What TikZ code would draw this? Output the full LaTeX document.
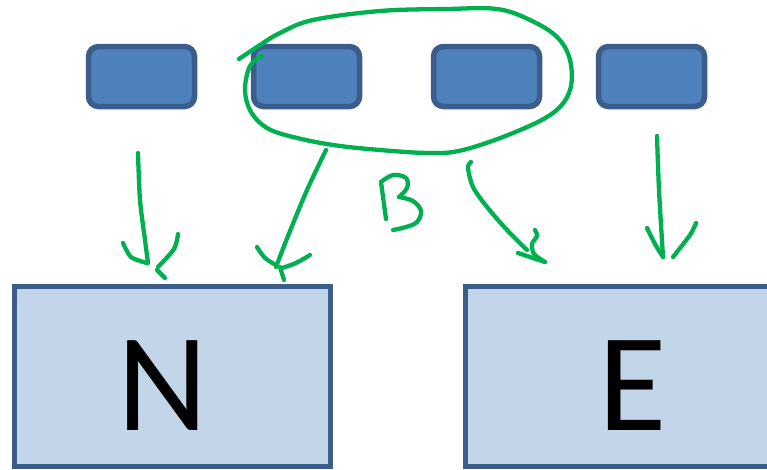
\documentclass[tikz,border=0pt]{standalone}
\usepackage{fontspec}
\setmainfont{Carlito}
\definecolor{tileFill}{HTML}{4F81BD}
\definecolor{tileEdge}{HTML}{3A5D8B}
\definecolor{panelFill}{HTML}{C3D5E9}
\definecolor{ink}{HTML}{00B050}
\tikzset{
  tile/.style={draw=tileEdge, fill=tileFill, line width=5.5pt, rounded corners=10pt},
  panel/.style={draw=tileEdge, fill=panelFill, line width=5pt},
  pen/.style={draw=ink, line width=4.3pt, line cap=round, line join=round},
}
\begin{document}
\begin{tikzpicture}[x=1pt,y=-1pt]
\useasboundingbox (0,0) rectangle (767,469);
\clip (0,0) rectangle (767,469);

% row of small tiles
\draw[tile] (88.5,46.5) rectangle (194.5,106.5);
\draw[tile] (253.5,46.5) rectangle (359.5,106.5);
\draw[tile] (433.5,46.5) rectangle (539.5,106.5);
\draw[tile] (598.5,46.5) rectangle (704.5,106.5);
\coordinate (t1) at (141,76);
\coordinate (t2) at (306,76);
\coordinate (t3) at (486,76);
\coordinate (t4) at (651,76);

% large panels
\draw[panel] (14.5,286.5) rectangle (330,466);
\draw[panel] (465.5,286.5) rectangle (800,466);
\node[font=\fontsize{140}{140}\selectfont, inner sep=0pt] (n) at (163,386) {N};
\node[font=\fontsize{140}{140}\selectfont, inner sep=0pt] (e) at (633,386) {E};

% loop around the middle tiles
\draw[pen] plot[smooth, tension=0.6] coordinates {
  (262,56) (250,66) (245,90) (251,112) (267,128) (293,137) (333,145)
  (380,150) (430,153) (463,150) (513,133) (553,113) (570,90) (570,60)
  (557,37) (530,20) (497,9) (447,9) (380,11) (313,20) (280,33) (260,45) (239,59)};

% label B
\draw[pen] (381,182) -- (386,219);
\draw[pen] plot[smooth, tension=0.6] coordinates {
  (381,182) (393,175) (406,178) (407,188) (399,197)};
\draw[pen] plot[smooth, tension=0.6] coordinates {
  (399,197) (413,201) (421,211) (417,222) (406,227) (393,230)};

% arrow 1
\draw[pen] plot[smooth] coordinates {(138,153) (140,200) (145,240) (148,263)};
\draw[pen] plot[smooth] coordinates {(123,243) (131,257) (147,263)};
\draw[pen] plot[smooth] coordinates {(178,234) (174,249) (158,267)};
\draw[pen] (157,270) -- (165,278);

% arrow 2
\draw[pen] plot[smooth] coordinates {(326,150) (307,190) (288,236) (276,267)};
\draw[pen] plot[smooth] coordinates {(257,247) (265,258) (276,265)};
\draw[pen] plot[smooth] coordinates {(310,255) (296,263) (282,268)};
\draw[pen] (280,267) -- (284,280);

% arrow 3
\draw[pen] plot[smooth] coordinates {(471,162) (468,168) (473,187) (487,207) (507,230) (527,250)};
\draw[pen] plot[smooth] coordinates {(518,253) (530,257) (545,262)};
\draw[pen] plot[smooth] coordinates {(535,230) (537,236) (532,244) (534,254) (545,262)};

% arrow 4
\draw[pen] plot[smooth] coordinates {(657,136) (659,190) (663,257)};
\draw[pen] plot[smooth] coordinates {(647,228) (655,244) (663,257)};
\draw[pen] plot[smooth] coordinates {(696,223) (690,235) (673,257)};
\end{tikzpicture}
\end{document}
